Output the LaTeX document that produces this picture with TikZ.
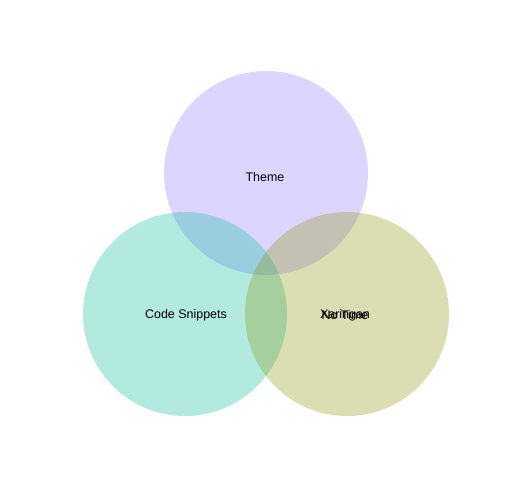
\documentclass[tikz,border=0pt]{standalone}
\usepackage{fontspec}
\setmainfont{Liberation Sans}
\definecolor{themecol}{RGB}{142,118,255}
\definecolor{codecol}{RGB}{2,188,155}
\definecolor{xarcol}{RGB}{138,148,5}
\begin{document}
\begin{tikzpicture}[x=1bp,y=-1bp,
    venn/.style={opacity=0.3},
    lbl/.style={font=\fontsize{12.5}{14}\selectfont,inner sep=0pt}]
    % --- CANVAS ---
    \fill[white] (0,0) rectangle (504,504);
    \useasboundingbox (0,0) rectangle (504,504);
    % --- CIRCLES ---
    \fill[venn,fill=themecol] (266,173) circle (102);
    \fill[venn,fill=codecol] (185,314) circle (102);
    \fill[venn,fill=xarcol] (347,314) circle (102);
    % --- LABELS ---
    \node[lbl] (theme) at (265,177) {Theme};
    \node[lbl] (code) at (186,315) {Code Snippets};
    \node[lbl] (xar) at (345,315) {Xaringan};
    \node[lbl] (notime) at (345,315) {No Time};
\end{tikzpicture}
\end{document}
